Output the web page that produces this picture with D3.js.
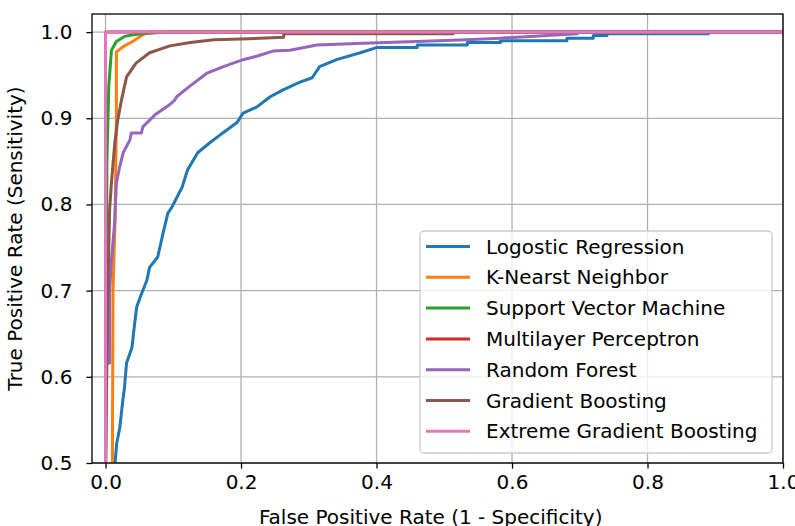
<!DOCTYPE html>
<html>
<head>
<meta charset="utf-8">
<script src="https://cdn.jsdelivr.net/npm/d3@7"></script>
<style>
    body { margin: 0; background: #fff; }
    svg text { font-family: "DejaVu Sans", sans-serif; fill: #000; }
</style>
</head>
<body>
<div id="chart"></div>
<script>
// model names and colours (matplotlib tab10 order)
const models = [
    "Logostic Regression",
    "K-Nearst Neighbor",
    "Support Vector Machine",
    "Multilayer Perceptron",
    "Random Forest",
    "Gradient Boosting",
    "Extreme Gradient Boosting"
];
const colors = ["#1f77b4", "#ff7f0e", "#2ca02c", "#d62728", "#9467bd", "#8c564b", "#e377c2"];

// ROC points (fpr, tpr)
const lrFpr = [0.014, 0.014, 0.0165, 0.021, 0.025, 0.028, 0.031, 0.039, 0.043, 0.046, 0.051, 0.061, 0.065, 0.077, 0.085, 0.092, 0.098, 0.113, 0.121, 0.136, 0.153, 0.173, 0.194, 0.203, 0.223, 0.243, 0.262, 0.287, 0.305, 0.316, 0.341, 0.376, 0.400, 0.460, 0.460, 0.534, 0.534, 0.583, 0.583, 0.681, 0.681, 0.720, 0.720, 0.740, 0.740, 0.890, 0.890, 1.0];
const lrTpr = [0.48, 0.500, 0.523, 0.541, 0.569, 0.588, 0.616, 0.634, 0.662, 0.681, 0.692, 0.712, 0.727, 0.739, 0.767, 0.790, 0.797, 0.820, 0.840, 0.860, 0.871, 0.883, 0.895, 0.906, 0.913, 0.925, 0.933, 0.942, 0.947, 0.960, 0.968, 0.976, 0.982, 0.982, 0.985, 0.985, 0.988, 0.988, 0.990, 0.990, 0.993, 0.993, 0.996, 0.996, 0.998, 0.998, 1.0, 1.0];

const knnFpr = [0.010, 0.011, 0.014, 0.016, 0.016, 0.021, 0.030, 0.040, 0.055, 0.065, 1.0];
const knnTpr = [0.48, 0.70, 0.78, 0.90, 0.977, 0.980, 0.985, 0.989, 0.997, 1.0, 1.0];

const svmFpr = [0.0, 0.002, 0.0047, 0.0087, 0.016, 0.028, 0.040, 0.055, 0.090, 1.0];
const svmTpr = [0.48, 0.85, 0.936, 0.979, 0.989, 0.995, 0.997, 0.998, 1.0, 1.0];

const mlpFpr = [0.0, 0.0, 1.0];
const mlpTpr = [0.48, 1.0, 1.0];

const rfFpr = [0.0, 0.0, 0.006, 0.006, 0.0087, 0.0136, 0.016, 0.021, 0.026, 0.036, 0.038, 0.053, 0.055, 0.073, 0.095, 0.102, 0.105, 0.124, 0.149, 0.174, 0.203, 0.223, 0.247, 0.272, 0.312, 0.380, 0.459, 0.533, 0.582, 0.627, 0.696, 0.700, 1.0];
const rfTpr = [0.48, 0.615, 0.616, 0.700, 0.735, 0.781, 0.825, 0.844, 0.860, 0.875, 0.883, 0.883, 0.890, 0.904, 0.916, 0.921, 0.925, 0.937, 0.952, 0.960, 0.968, 0.972, 0.978, 0.979, 0.985, 0.987, 0.989, 0.991, 0.993, 0.995, 0.998, 1.0, 1.0];

const gbFpr = [0.0, 0.002, 0.004, 0.006, 0.0087, 0.0136, 0.018, 0.0235, 0.031, 0.045, 0.065, 0.095, 0.125, 0.160, 0.200, 0.263, 0.263, 0.513, 0.513, 1.0];
const gbTpr = [0.48, 0.62, 0.72, 0.794, 0.825, 0.871, 0.898, 0.921, 0.948, 0.964, 0.976, 0.984, 0.988, 0.991, 0.992, 0.994, 0.998, 0.998, 1.0, 1.0];

const xgbFpr = [0.0, 0.0, 1.0];
const xgbTpr = [0.48, 1.0, 1.0];

const xTicks = [0.0, 0.2, 0.4, 0.6, 0.8, 1.0];
const yTicks = [0.5, 0.6, 0.7, 0.8, 0.9, 1.0];

const series = [
    [lrFpr, lrTpr],
    [knnFpr, knnTpr],
    [svmFpr, svmTpr],
    [mlpFpr, mlpTpr],
    [rfFpr, rfTpr],
    [gbFpr, gbTpr],
    [xgbFpr, xgbTpr]
].map(([f, t], i) => ({
    name: models[i],
    color: colors[i],
    points: f.map((v, j) => [v, t[j]])
}));

const margin = { top: 14, right: 12, bottom: 63, left: 92 };
const width = 795 - margin.left - margin.right;
const height = 526 - margin.top - margin.bottom;

const svg = d3.select("#chart")
    .append("svg")
    .attr("width", 795)
    .attr("height", 526)
    .append("g")
    .attr("transform", `translate(${margin.left},${margin.top})`);

const x = d3.scaleLinear().domain([-0.02, 1.0]).range([0, width]);
const y = d3.scaleLinear().domain([0.5, 1.021]).range([height, 0]);

// grid
svg.append("g")
    .selectAll("line")
    .data(xTicks)
    .join("line")
    .attr("x1", d => x(d)).attr("x2", d => x(d))
    .attr("y1", 0).attr("y2", height)
    .attr("stroke", "#b0b0b0")
    .attr("stroke-width", 1.3);

svg.append("g")
    .selectAll("line")
    .data(yTicks)
    .join("line")
    .attr("x1", 0).attr("x2", width)
    .attr("y1", d => y(d)).attr("y2", d => y(d))
    .attr("stroke", "#b0b0b0")
    .attr("stroke-width", 1.3);

svg.append("clipPath")
    .attr("id", "plot-clip")
    .append("rect")
    .attr("width", width)
    .attr("height", height);

const line = d3.line()
    .x(d => x(d[0]))
    .y(d => y(d[1]));

svg.append("g")
    .attr("clip-path", "url(#plot-clip)")
    .selectAll("path")
    .data(series)
    .join("path")
    .attr("d", d => line(d.points))
    .attr("fill", "none")
    .attr("stroke", d => d.color)
    .attr("stroke-width", 3)
    .attr("stroke-linejoin", "round")
    .attr("stroke-linecap", "square");

// axes
const xAxis = svg.append("g")
    .attr("transform", `translate(0,${height})`)
    .call(d3.axisBottom(x).tickValues(xTicks).tickFormat(d3.format(".1f")).tickSize(5.6).tickPadding(6));

const yAxis = svg.append("g")
    .call(d3.axisLeft(y).tickValues(yTicks).tickFormat(d3.format(".1f")).tickSize(5.6).tickPadding(14));

[xAxis, yAxis].forEach(g => {
    g.select(".domain").remove();
    g.selectAll("line").attr("stroke", "#000").attr("stroke-width", 1.3);
    g.selectAll("text")
        .style("font-family", "'DejaVu Sans', sans-serif")
        .style("font-size", "20px")
        .attr("fill", "#000");
});

svg.append("rect")
    .attr("width", width)
    .attr("height", height)
    .attr("fill", "none")
    .attr("stroke", "#000")
    .attr("stroke-width", 1.3);

svg.append("text")
    .attr("x", x(0.48))
    .attr("y", height + 61)
    .attr("text-anchor", "middle")
    .style("font-size", "20px")
    .text("False Positive Rate (1 - Specificity)");

svg.append("text")
    .attr("transform", `translate(${-70},${height / 2}) rotate(-90)`)
    .attr("text-anchor", "middle")
    .style("font-size", "20px")
    .text("True Positive Rate (Sensitivity)");

// legend
const legend = svg.append("g")
    .attr("transform", `translate(${420 - margin.left},${231 - margin.top})`);

legend.append("rect")
    .attr("width", 352)
    .attr("height", 222)
    .attr("rx", 4)
    .attr("fill", "#fff")
    .attr("fill-opacity", 0.8)
    .attr("stroke", "#cccccc")
    .attr("stroke-width", 1.3);

const rows = legend.selectAll("g")
    .data(series)
    .join("g")
    .attr("transform", (d, i) => `translate(0,${15.5 + i * 30.8})`);

rows.append("line")
    .attr("x1", 6).attr("x2", 50)
    .attr("stroke", d => d.color)
    .attr("stroke-width", 3);

rows.append("text")
    .attr("x", 66)
    .attr("dy", "0.35em")
    .style("font-size", "20px")
    .text(d => d.name);
</script>
</body>
</html>
